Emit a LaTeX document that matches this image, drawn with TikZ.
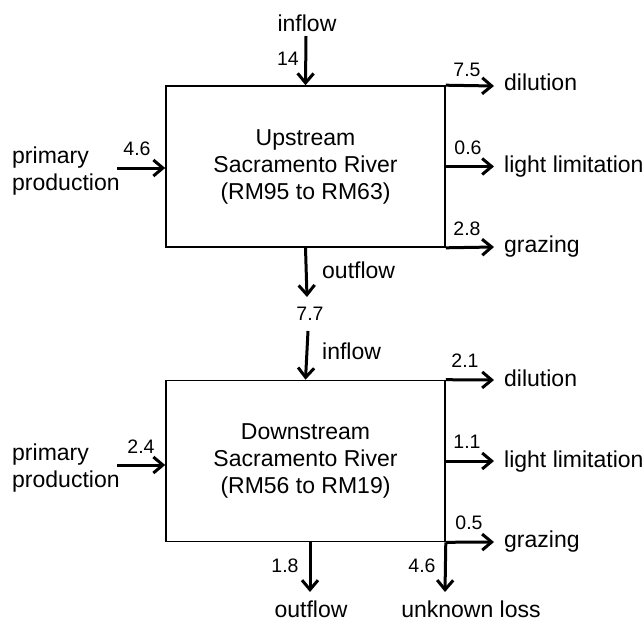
\documentclass[tikz,border=0pt]{standalone}
\usepackage{fontspec}
\setmainfont{Liberation Sans}
\usetikzlibrary{arrows.meta}
\tikzset{
  lbl/.style={font=\fontsize{23}{27}\selectfont, inner sep=0pt},
  num/.style={font=\fontsize{19.5}{23}\selectfont, inner sep=0pt},
  flow/.style={line width=3pt, -{Straight Barb[length=9.5pt,width=16pt]}},
  compartment/.style={draw, line width=1.6pt, minimum width=279pt, minimum height=161pt,
    inner sep=0pt, align=center, font=\fontsize{23}{27}\selectfont}
}
\begin{document}
\begin{tikzpicture}[x=1pt,y=-1pt]
\useasboundingbox (0,0) rectangle (643,622);
% compartments
\node[compartment] (box1) at (305.5,166.5) {Upstream\\Sacramento River\\(RM95 to RM63)};
\node[compartment] (box2) at (305.5,461) {Downstream\\Sacramento River\\(RM56 to RM19)};

% free ends
\coordinate (in1) at (306,36);
\coordinate (out1) at (307,297);
\coordinate (in2) at (308,331);
\coordinate (out2) at (310,592);
\coordinate (unk) at (445,592);
\coordinate (dil1) at (494,86);
\coordinate (lig1) at (494,166.5);
\coordinate (gra1) at (494,247);
\coordinate (dil2) at (494,380);
\coordinate (lig2) at (494,461);
\coordinate (gra2) at (494,542);
\coordinate (pp1) at (117,168);
\coordinate (pp2) at (117,465);

% connectors
\draw[flow] (in1) -- (box1.north);
\draw[flow] (box1.south) -- (out1);
\draw[flow] (box1.north east) -- (dil1);
\draw[flow] (box1.east) -- (lig1);
\draw[flow] (box1.south east) -- (gra1);
\draw[flow] (pp1) -- (pp1 -| box1.west);
\draw[flow] (in2) -- (box2.north);
\draw[flow] (box2.south -| out2) -- (out2);
\draw[flow] (box2.south east) -- (unk);
\draw[flow] (box2.north east) -- (dil2);
\draw[flow] (box2.east) -- (lig2);
\draw[flow] (box2.south east) -- (gra2);
\draw[flow] (pp2) -- (pp2 -| box2.west);

% labels, upper
\node[lbl, anchor=base] (tin1) at (307,31.5) {inflow};
\node[num, anchor=base] (n14) at (288,65) {14};
\node[num, anchor=base] (n75) at (467,76) {7.5};
\node[lbl, anchor=base west] (tdil1) at (504,90.5) {dilution};
\node[num, anchor=base] (n06) at (468,154) {0.6};
\node[lbl, anchor=base west] (tlig1) at (504,172) {light limitation};
\node[num, anchor=base] (n28) at (467,235) {2.8};
\node[lbl, anchor=base west] (tgra1) at (504,252) {grazing};
\node[lbl, anchor=west, align=left] (tpp1) at (12,171) {primary\\production};
\node[num, anchor=base] (n46a) at (137,155) {4.6};
\node[lbl, anchor=base west] (tout1) at (322,278) {outflow};
\node[num, anchor=base] (n77) at (310,320) {7.7};

% labels, lower
\node[lbl, anchor=base west] (tin2) at (322,359) {inflow};
\node[num, anchor=base] (n21) at (465,367) {2.1};
\node[lbl, anchor=base west] (tdil2) at (504,386) {dilution};
\node[num, anchor=base] (n11) at (467,448) {1.1};
\node[lbl, anchor=base west] (tlig2) at (504,467) {light limitation};
\node[num, anchor=base] (n05) at (469,529) {0.5};
\node[lbl, anchor=base west] (tgra2) at (504,547) {grazing};
\node[lbl, anchor=west, align=left] (tpp2) at (12,468) {primary\\production};
\node[num, anchor=base] (n24) at (141,453) {2.4};
\node[num, anchor=base] (n18) at (285,572) {1.8};
\node[num, anchor=base] (n46b) at (422,572) {4.6};
\node[lbl, anchor=base] (tout2) at (311,617.5) {outflow};
\node[lbl, anchor=base] (tunk) at (471,617.5) {unknown loss};
\end{tikzpicture}
\end{document}
